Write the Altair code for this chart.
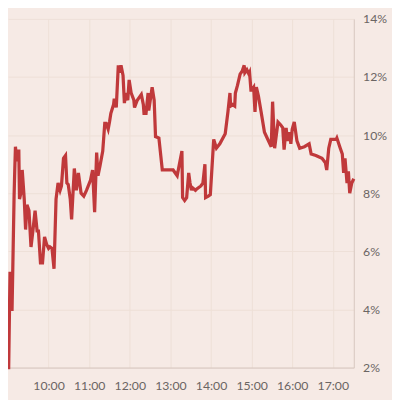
import altair as alt
import pandas as pd

times = ["09:00","09:01","09:03","09:04","09:06","09:07","09:09","09:10","09:11","09:13",
         "09:14","09:16","09:17","09:20","09:21","09:24","09:26","09:28","09:31","09:34",
         "09:37","09:40","09:43","09:45","09:48","09:51","09:54","09:57","10:00","10:02",
         "10:05","10:08","10:11","10:14","10:17","10:19","10:22","10:25","10:27","10:29",
         "10:32","10:34","10:38","10:41","10:44","10:48","10:52","10:56","11:02","11:05",
         "11:08","11:11","11:13","11:16","11:20","11:23","11:25","11:28","11:30","11:32",
         "11:36","11:37","11:40","11:43","11:45","11:47","11:50","11:52","11:54","11:57",
         "11:59","12:02","12:06","12:07","12:11","12:14","12:17","12:20","12:21","12:24",
         "12:27","12:28","12:33","12:36","12:38","12:43","12:48","13:00","13:04","13:10",
         "13:17","13:18","13:21","13:24","13:27","13:29","13:31","13:32","13:37","13:39",
         "13:45","13:48","13:51","13:52","13:56","13:59","14:04","14:08","14:13","14:21",
         "14:25","14:28","14:29","14:32","14:35","14:36","14:39","14:43","14:46","14:49",
         "14:50","14:53","14:56","14:57","14:59","15:00","15:03","15:05","15:07","15:10",
         "15:14","15:19","15:24","15:29","15:31","15:34","15:39","15:43","15:46","15:48",
         "15:51","15:53","15:56","15:58","16:00","16:03","16:07","16:11","16:18","16:25",
         "16:28","16:35","16:44","16:49","16:51","16:54","16:57","17:05","17:06","17:11",
         "17:14","17:16","17:18","17:21","17:23","17:25","17:28","17:31"]

values = [2.0, 2.0, 5.3, 4.0, 4.0, 5.3, 7.9, 8.8, 9.6, 9.1,
          9.45, 9.45, 7.8, 8.1, 8.8, 7.8, 6.75, 7.6, 7.4, 6.15,
          6.75, 7.4, 6.7, 6.7, 5.6, 5.6, 6.5, 6.25, 6.1, 6.15,
          6.1, 5.4, 7.8, 8.35, 8.1, 8.25, 9.2, 9.3, 8.35, 8.3,
          7.8, 7.1, 8.85, 8.1, 8.7, 8.0, 7.9, 8.1, 8.45, 8.8,
          7.35, 9.4, 8.6, 8.95, 9.45, 10.4, 10.4, 10.2, 10.45, 10.75,
          11.05, 11.25, 10.95, 12.4, 12.15, 12.4, 12.05, 11.1, 11.45, 11.2,
          11.9, 11.45, 11.2, 10.95, 11.2, 11.3, 11.4, 11.05, 10.75, 10.75,
          11.45, 10.85, 11.65, 11.2, 9.95, 9.9, 8.8, 8.8, 8.8, 8.6,
          9.45, 7.85, 7.75, 7.85, 8.7, 8.35, 8.1, 8.2, 8.1, 8.15,
          8.25, 8.35, 9.0, 7.85, 7.9, 7.95, 9.85, 9.55, 9.7, 10.05,
          10.8, 11.45, 11.0, 11.05, 11.0, 11.45, 11.7, 12.1, 12.2, 12.4,
          12.15, 12.25, 12.1, 12.15, 11.55, 11.55, 11.65, 10.8, 11.65, 11.35,
          10.8, 10.1, 9.85, 9.6, 11.15, 9.55, 10.45, 10.35, 10.25, 9.5,
          10.25, 9.8, 10.1, 9.7, 10.2, 10.45, 9.8, 9.55, 9.6, 9.7,
          9.35, 9.3, 9.2, 9.05, 8.8, 9.55, 9.85, 9.85, 9.9, 9.55,
          9.35, 8.7, 9.2, 8.35, 8.75, 8.0, 8.35, 8.5]

y_ticks = [2, 4, 6, 8, 10, 12, 14]
x_tick_hours = [10, 11, 12, 13, 14, 15, 16, 17]

df = pd.DataFrame({
    "t": ["2024-01-02T" + t + ":00" for t in times],
    "v": values,
    "i": list(range(len(times))),
})

BG = "#f6eae5"
GRID = "#eedfd7"
AXIS = "#d6c7c0"
TXT = "#6b6563"

x_vals = [alt.DateTime(year=2024, month=1, date=2, hours=h, minutes=0) for h in x_tick_hours]

chart = alt.Chart(df).mark_line(color="#c0393b", strokeWidth=3.3, strokeJoin="miter").encode(
    x=alt.X("t:T",
            scale=alt.Scale(domain=[alt.DateTime(year=2024, month=1, date=2, hours=9, minutes=0),
                                    alt.DateTime(year=2024, month=1, date=2, hours=17, minutes=31)]),
            axis=alt.Axis(values=x_vals, format="%H:%M", title=None, grid=True,
                          gridColor=GRID, ticks=False, domainColor=AXIS,
                          labelColor=TXT, labelFont="Lato", labelFontSize=12.5,
                          labelPadding=12, labelFlush=False)),
    y=alt.Y("v:Q",
            scale=alt.Scale(domain=[2, 14], nice=False, zero=False),
            axis=alt.Axis(orient="right", values=y_ticks, labelExpr="datum.value + '%'",
                          title=None, grid=True, gridColor=GRID, ticks=False,
                          domainColor=AXIS, labelColor=TXT, labelFont="Lato",
                          labelFontSize=12.5, labelPadding=9)),
    order="i:Q",
).properties(
    width=353, height=356,
    background=BG,
    autosize=alt.AutoSizeParams(type="none"),
    padding={"left": 0, "top": 7, "right": 39, "bottom": 29},
).configure_view(stroke=None)

chart.save("out.html", embed_options={"renderer": "svg", "actions": False})
